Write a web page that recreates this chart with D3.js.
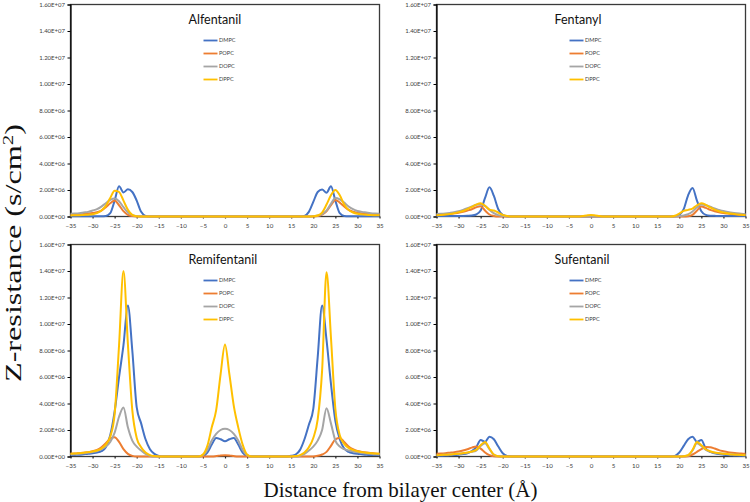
<!DOCTYPE html>
<html><head><meta charset="utf-8">
<script src="https://cdn.jsdelivr.net/npm/d3@7/dist/d3.min.js"></script>
<style>body{margin:0;background:#fff}svg{display:block}</style>
</head><body>
<svg id="chart" width="750" height="502"></svg>
<script>
// Distance from bilayer center (Å)
const xValues = [-35,-34,-33,-32,-31,-30,-29,-28,-27,-26,-25,-24,-23,-22,-21,-20,-19,-18,-17,-16,-15,-14,-13,-12,-11,-10,-9,-8,-7,-6,-5,-4,-3,-2,-1,0,1,2,3,4,5,6,7,8,9,10,11,12,13,14,15,16,17,18,19,20,21,22,23,24,25,26,27,28,29,30,31,32,33,34,35];
const xTicks = [-35,-30,-25,-20,-15,-10,-5,0,5,10,15,20,25,30,35];
const yTicks = [0,2e6,4e6,6e6,8e6,1e7,1.2e7,1.4e7,1.6e7];
const lipids = ["DMPC","POPC","DOPC","DPPC"];
const lipidColors = ["#4472C4","#ED7D31","#A5A5A5","#FFC000"];
const drugs = ["Alfentanil","Fentanyl","Remifentanil","Sufentanil"];
const UNIT = 1e6; // series values below are in units of 1e6 s/cm²

// Alfentanil
const alfDMPC = [0.02,0.02,0.02,0.02,0.02,0.02,0.02,0.02,0.04,0.25,
 1.2,2.28,1.82,2.05,1.85,1.2,0.35,0.05,0,0,
 0,0,0,0,0,0,0,0,0,0, 0,0,0,0,0,0,0,0,0,0, 0,0,0,0,0,0,0,0,0,0,
 0,0,0,0.05,0.35,1.1,1.85,2.04,1.8,2.28,
 1.2,0.25,0.04,0.02,0.02,0.02,0.02,0.02,0.02,0.02, 0.02];
const alfPOPC = [0.12,0.14,0.16,0.19,0.22,0.26,0.32,0.45,0.7,1.0,
 1.2,0.85,0.4,0.12,0.03,0,0,0,0,0,
 0,0,0,0,0,0,0,0,0,0, 0,0,0,0,0,0,0,0,0,0, 0,0,0,0,0,0,0,0,0,0,
 0,0,0,0,0,0,0.03,0.15,0.4,0.85,
 1.25,1.05,0.75,0.5,0.36,0.28,0.23,0.2,0.18,0.16, 0.15];
const alfDOPC = [0.2,0.22,0.25,0.3,0.35,0.45,0.55,0.75,1.0,1.25,
 1.35,1.15,0.7,0.3,0.1,0.02,0,0,0,0,
 0,0,0,0,0,0,0,0,0,0, 0,0,0,0,0,0,0,0,0,0, 0,0,0,0,0,0,0,0,0,0,
 0,0,0,0,0,0.02,0.08,0.18,0.45,0.95,
 1.4,1.3,1.05,0.75,0.55,0.42,0.35,0.3,0.25,0.22, 0.2];
const alfDPPC = [0.08,0.09,0.1,0.12,0.14,0.17,0.25,0.45,0.8,1.4,
 1.95,1.85,1.2,0.5,0.12,0.02,0,0,0,0,
 0,0,0,0,0,0,0,0,0,0, 0,0,0,0,0,0,0,0,0,0, 0,0,0,0,0,0,0,0,0,0,
 0,0,0,0,0,0.02,0.08,0.3,0.9,1.6,
 2.0,1.6,0.9,0.5,0.3,0.2,0.16,0.13,0.11,0.1, 0.09];

// Fentanyl
const fenDMPC = [0.04,0.04,0.04,0.04,0.04,0.04,0.04,0.05,0.07,0.15,
 0.45,1.4,2.2,1.55,0.55,0.12,0.02,0,0,0,
 0,0,0,0,0,0,0,0,0,0, 0,0,0,0,0,0,0,0,0,0, 0,0,0,0,0,0,0,0,0,0,
 0,0,0,0,0.02,0.12,0.55,1.6,2.15,1.2,
 0.4,0.12,0.06,0.05,0.04,0.04,0.04,0.04,0.04,0.04, 0.04];
const fenPOPC = [0.12,0.14,0.17,0.2,0.24,0.28,0.35,0.45,0.55,0.7,
 0.78,0.45,0.15,0.04,0,0,0,0,0,0,
 0,0,0,0,0,0,0,0,0,0, 0,0,0,0,0,0,0,0,0,0, 0,0,0,0,0,0,0,0,0,0,
 0,0,0,0,0,0,0,0.02,0.12,0.45,
 0.75,0.65,0.5,0.4,0.32,0.26,0.22,0.18,0.15,0.13, 0.12];
const fenDOPC = [0.18,0.2,0.23,0.27,0.32,0.4,0.5,0.62,0.76,0.88,
 0.93,0.8,0.5,0.25,0.1,0.03,0,0,0,0,
 0,0,0,0,0,0,0,0,0,0, 0,0,0,0,0,0,0,0,0,0, 0,0,0,0,0,0,0,0,0,0,
 0,0,0,0,0,0.03,0.08,0.18,0.38,0.7,
 0.9,0.85,0.74,0.6,0.5,0.41,0.34,0.28,0.24,0.21, 0.18];
const fenDPPC = [0.1,0.12,0.15,0.19,0.25,0.33,0.42,0.55,0.72,0.9,
 1.0,0.8,0.52,0.45,0.3,0.12,0.03,0,0,0,
 0,0,0,0,0,0,0,0,0,0,
 0,0,0,0.03,0.08,0.12,0.08,0.03,0,0,
 0,0,0,0,0,0,0,0,0,0,
 0,0,0,0,0.06,0.22,0.42,0.5,0.6,0.85,
 1.0,0.88,0.68,0.52,0.4,0.31,0.25,0.2,0.16,0.13, 0.1];

// Remifentanil
const remDMPC = [0.1,0.12,0.14,0.17,0.2,0.25,0.3,0.4,0.7,1.6,
 3.4,6.0,8.4,11.4,8.0,3.7,2.5,1.3,0.55,0.2,
 0.05,0,0,0,0,0,0,0,0,0,
 0.05,0.3,0.9,1.4,1.3,1.15,1.3,1.4,0.9,0.3,
 0.05,0,0,0,0,0,0,0,0,0,
 0.05,0.15,0.5,1.3,2.4,3.6,7.5,11.4,8.8,5.5,
 2.7,1.3,0.6,0.35,0.25,0.2,0.17,0.14,0.12,0.11, 0.1];
const remPOPC = [0.2,0.22,0.25,0.28,0.33,0.4,0.5,0.7,1.0,1.35,
 1.45,1.1,0.55,0.2,0.05,0,0,0,0,0,
 0,0,0,0,0,0,0,0,0,0,
 0,0,0,0.03,0.08,0.1,0.08,0.03,0,0,
 0,0,0,0,0,0,0,0,0,0,
 0,0,0,0,0,0,0.05,0.15,0.35,0.8,
 1.3,1.4,1.1,0.75,0.55,0.42,0.35,0.3,0.26,0.23, 0.2];
const remDOPC = [0.15,0.17,0.2,0.24,0.28,0.34,0.42,0.55,0.75,1.1,
 1.8,3.0,3.7,2.2,1.2,0.75,0.45,0.2,0.06,0,
 0,0,0,0,0,0,0,0,0,0,
 0.1,0.5,1.2,1.7,2.0,2.1,2.0,1.7,1.2,0.5,
 0.1,0,0,0,0,0,0,0,0,0,
 0,0,0.06,0.2,0.45,0.75,1.2,2.0,3.65,2.5,
 1.2,0.75,0.55,0.45,0.38,0.32,0.27,0.23,0.2,0.17, 0.15];
const remDPPC = [0.2,0.22,0.25,0.28,0.33,0.38,0.45,0.6,0.9,1.5,
 3.2,8.4,14.0,8.5,3.5,1.4,0.7,0.3,0.1,0.03,
 0,0,0,0,0,0,0,0,0,0,
 0.15,0.8,2.2,3.5,6.2,8.45,6.2,3.8,2.2,0.9,
 0.15,0,0,0,0,0,0,0,0,0,
 0,0.03,0.1,0.3,0.7,1.4,2.8,6.5,13.9,9.0,
 3.6,1.6,0.95,0.65,0.5,0.4,0.33,0.28,0.25,0.22, 0.2];

// Sufentanil
const sufDMPC = [0.05,0.06,0.07,0.09,0.11,0.14,0.18,0.25,0.4,0.7,
 1.25,1.1,1.5,1.3,0.75,0.25,0.05,0,0,0,
 0,0,0,0,0,0,0,0,0,0, 0,0,0,0,0,0,0,0,0,0, 0,0,0,0,0,0,0,0,0,0,
 0,0,0,0,0.05,0.3,0.8,1.3,1.5,1.1,
 1.25,0.6,0.35,0.25,0.18,0.14,0.11,0.09,0.07,0.06, 0.05];
const sufPOPC = [0.2,0.22,0.25,0.29,0.33,0.38,0.45,0.55,0.67,0.75,
 0.6,0.3,0.1,0.02,0,0,0,0,0,0,
 0,0,0,0,0,0,0,0,0,0, 0,0,0,0,0,0,0,0,0,0, 0,0,0,0,0,0,0,0,0,0,
 0,0,0,0,0,0,0,0.02,0.15,0.35,
 0.55,0.72,0.7,0.6,0.48,0.4,0.33,0.28,0.24,0.22, 0.2];
const sufDOPC = [0.1,0.11,0.13,0.15,0.17,0.2,0.24,0.28,0.35,0.45,
 0.8,1.0,0.55,0.12,0.02,0,0,0,0,0,
 0,0,0,0,0,0,0,0,0,0, 0,0,0,0,0,0,0,0,0,0, 0,0,0,0,0,0,0,0,0,0,
 0,0,0,0,0,0,0.02,0.08,0.45,1.0,
 0.8,0.5,0.35,0.28,0.24,0.2,0.17,0.15,0.13,0.11, 0.1];
const sufDPPC = [0.1,0.11,0.13,0.15,0.18,0.21,0.25,0.3,0.38,0.5,
 0.85,1.1,0.6,0.15,0.02,0,0,0,0,0,
 0,0,0,0,0,0,0,0,0,0, 0,0,0,0,0,0,0,0,0,0, 0,0,0,0,0,0,0,0,0,0,
 0,0,0,0,0,0,0.02,0.1,0.5,1.1,
 0.85,0.55,0.4,0.3,0.25,0.21,0.18,0.15,0.13,0.11, 0.1];

const panelSeries = [
  [alfDMPC, alfPOPC, alfDOPC, alfDPPC],
  [fenDMPC, fenPOPC, fenDOPC, fenDPPC],
  [remDMPC, remPOPC, remDOPC, remDPPC],
  [sufDMPC, sufPOPC, sufDOPC, sufDPPC]
];

const svg = d3.select("#chart");
const W = 309, H = 212;
const origins = [[70.5,4.5],[436.5,4.5],[70.5,244.5],[436.5,244.5]];
const tickFont = "Lato, 'Open Sans', sans-serif";

function fmtE(v){
  const [m,e] = v.toExponential(2).split("e");
  const n = +e;
  return m + "E" + (n < 0 ? "-" : "+") + String(Math.abs(n)).padStart(2,"0");
}

drugs.forEach((drug, p) => {
  const [ox, oy] = origins[p];
  const g = svg.append("g").attr("transform", `translate(${ox},${oy})`);
  const x = d3.scaleLinear().domain([-35,35]).range([0,W]);
  const y = d3.scaleLinear().domain([0,1.6e7]).range([H,0]);

  // frame
  g.append("rect").attr("width", W).attr("height", H)
    .attr("fill","none").attr("stroke","#3a3a3a").attr("stroke-width",1.3);

  // y axis
  const ya = g.append("g").call(d3.axisLeft(y).tickValues(yTicks).tickFormat(fmtE).tickSize(3).tickPadding(2.5));
  ya.select(".domain").attr("stroke","#000").attr("stroke-width",1.2);
  ya.selectAll("line").attr("stroke","#000");
  ya.selectAll("text").attr("font-family",tickFont).attr("font-size","6px").attr("fill","#404040");

  // x axis
  const xa = g.append("g").attr("transform",`translate(0,${H})`)
    .call(d3.axisBottom(x).tickValues(xTicks).tickSize(2).tickPadding(5));
  xa.select(".domain").remove();
  xa.selectAll("line").attr("stroke","#222").attr("stroke-width",1.2);
  xa.selectAll("text").attr("font-family",tickFont).attr("font-size","6.2px").attr("fill","#404040");

  // series
  const line = d3.line()
    .x((d,i) => x(xValues[i]))
    .y(d => y(d * UNIT))
    .curve(d3.curveMonotoneX);
  panelSeries[p].forEach((vals, s) => {
    g.append("path").datum(vals)
      .attr("fill","none").attr("stroke",lipidColors[s])
      .attr("stroke-width",2).attr("stroke-linejoin","round")
      .attr("d", line);
  });

  // title
  g.append("text").attr("x",118).attr("y",19)
    .attr("font-family",tickFont).attr("font-size","12.5px").attr("fill","#111")
    .text(drug);

  // legend
  lipids.forEach((name, s) => {
    const ly = 36 + s*13;
    g.append("line").attr("x1",133).attr("x2",147).attr("y1",ly).attr("y2",ly)
      .attr("stroke",lipidColors[s]).attr("stroke-width",1.8);
    g.append("text").attr("x",148.5).attr("y",ly).attr("dy","0.35em")
      .attr("font-family",tickFont).attr("font-size","5.6px").attr("fill","#404040")
      .text(name);
  });
});

// axis titles
svg.append("text").attr("transform","translate(21,253) rotate(-90)")
  .attr("text-anchor","middle")
  .attr("font-family","'Liberation Serif','Times New Roman',serif")
  .attr("font-size","23px").attr("fill","#111")
  .attr("textLength",258).attr("lengthAdjust","spacingAndGlyphs")
  .html('Z-resistance (s/cm<tspan dy="-8" font-size="15px">2</tspan><tspan dy="8">)</tspan>');

svg.append("text").attr("x",400.5).attr("y",497)
  .attr("text-anchor","middle")
  .attr("font-family","'Liberation Serif','Times New Roman',serif")
  .attr("font-size","21px").attr("fill","#111")
  .text("Distance from bilayer center (Å)");
</script>
</body></html>
